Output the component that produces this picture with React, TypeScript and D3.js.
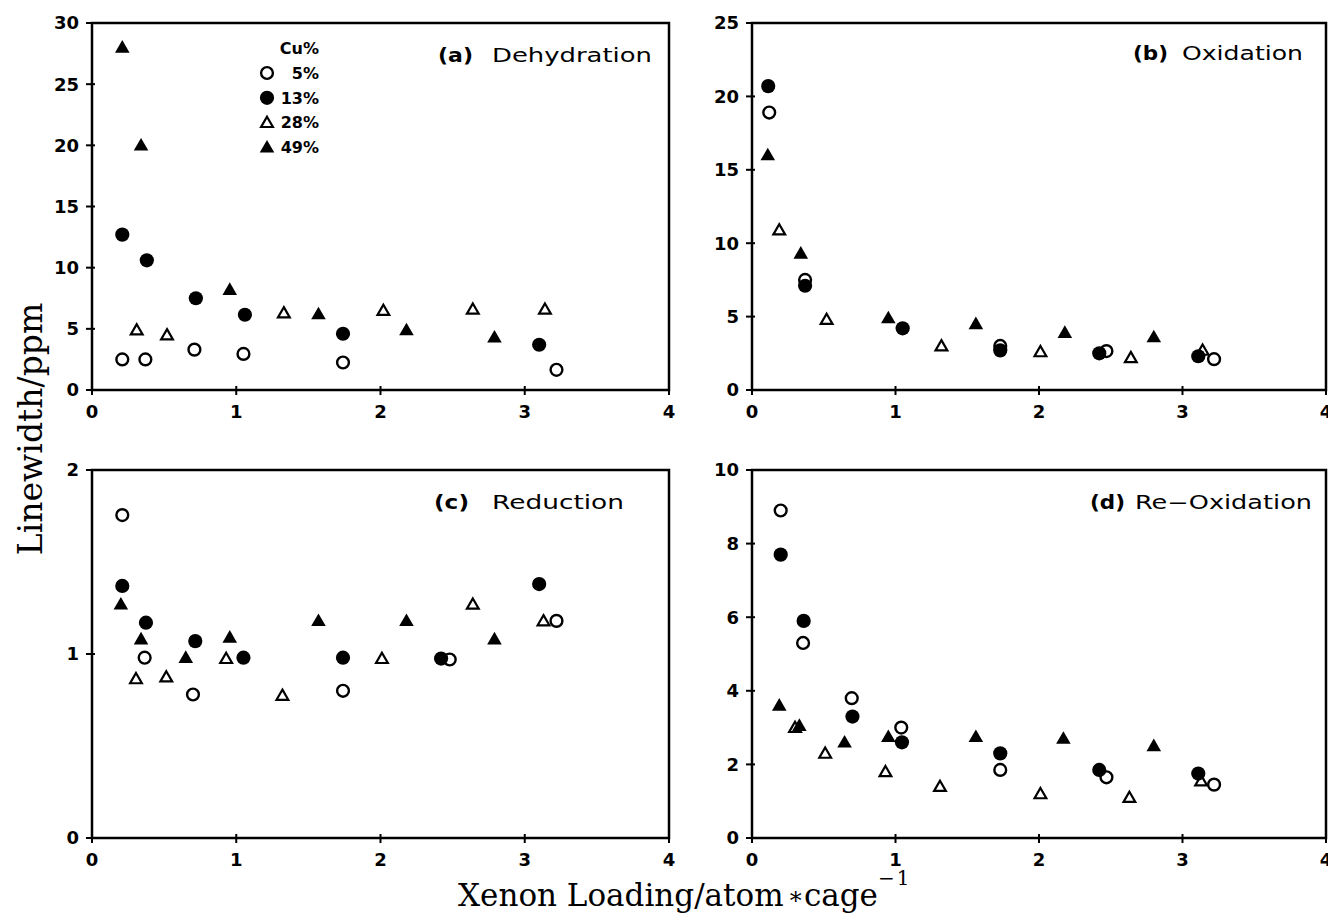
import { useEffect, useRef } from 'react';
import * as d3 from 'd3';

type Pt = [number, number];

// Cu loadings, same marker order in every panel
const cuLabels = ['5%', '13%', '28%', '49%'];
const xTicks = [0, 1, 2, 3, 4];

// (a) Dehydration  [xenon loading, linewidth]
const dehyd5: Pt[] = [[0.21, 2.5], [0.37, 2.5], [0.71, 3.3], [1.05, 2.95], [1.74, 2.25], [3.22, 1.65]];
const dehyd13: Pt[] = [[0.21, 12.7], [0.38, 10.6], [0.72, 7.5], [1.06, 6.15], [1.74, 4.6], [3.1, 3.7]];
const dehyd28: Pt[] = [[0.31, 4.9], [0.52, 4.5], [1.33, 6.3], [2.02, 6.5], [2.64, 6.6], [3.14, 6.6]];
const dehyd49: Pt[] = [[0.21, 28.0], [0.34, 20.0], [0.955, 8.2], [1.57, 6.2], [2.18, 4.9], [2.79, 4.3]];

// (b) Oxidation
const oxid5: Pt[] = [[0.12, 18.9], [0.37, 7.5], [1.73, 3.0], [2.47, 2.65], [3.22, 2.1]];
const oxid13: Pt[] = [[0.113, 20.7], [0.37, 7.1], [1.05, 4.2], [1.73, 2.7], [2.42, 2.5], [3.11, 2.3]];
const oxid28: Pt[] = [[0.19, 10.9], [0.52, 4.8], [1.32, 3.0], [2.01, 2.6], [2.64, 2.2], [3.14, 2.7]];
const oxid49: Pt[] = [[0.11, 16.0], [0.34, 9.3], [0.95, 4.9], [1.56, 4.5], [2.18, 3.9], [2.8, 3.6]];

// (c) Reduction
const red5: Pt[] = [[0.21, 1.755], [0.365, 0.98], [0.7, 0.78], [1.74, 0.8], [2.48, 0.97], [3.22, 1.18]];
const red13: Pt[] = [[0.21, 1.37], [0.374, 1.17], [0.716, 1.07], [1.05, 0.98], [1.74, 0.98], [2.42, 0.975], [3.1, 1.38]];
const red28: Pt[] = [[0.305, 0.865], [0.515, 0.875], [0.93, 0.975], [1.32, 0.775], [2.01, 0.975], [2.64, 1.27], [3.13, 1.18]];
const red49: Pt[] = [[0.2, 1.27], [0.34, 1.08], [0.65, 0.98], [0.955, 1.09], [1.57, 1.18], [2.18, 1.18], [2.79, 1.08]];

// (d) Re-Oxidation
const reox5: Pt[] = [[0.2, 8.9], [0.356, 5.3], [0.695, 3.8], [1.04, 3.0], [1.73, 1.85], [2.47, 1.65], [3.22, 1.45]];
const reox13: Pt[] = [[0.2, 7.7], [0.36, 5.9], [0.7, 3.3], [1.045, 2.6], [1.73, 2.3], [2.42, 1.85], [3.11, 1.75]];
const reox28: Pt[] = [[0.3, 3.0], [0.51, 2.3], [0.93, 1.8], [1.31, 1.4], [2.01, 1.2], [2.63, 1.1], [3.13, 1.55]];
const reox49: Pt[] = [[0.19, 3.6], [0.33, 3.05], [0.645, 2.6], [0.95, 2.75], [1.56, 2.75], [2.17, 2.7], [2.8, 2.5]];

const yTicksA = [0, 5, 10, 15, 20, 25, 30];
const yTicksB = [0, 5, 10, 15, 20, 25];
const yTicksC = [0, 1, 2];
const yTicksD = [0, 2, 4, 6, 8, 10];

const panels = [
  { left: 92, top: 23, right: 669, bottom: 390, yTicks: yTicksA, tag: '(a)', name: 'Dehydration',
    tagX: 438, nameX: 492, nameEnd: 652, titleY: 62, series: [dehyd5, dehyd13, dehyd28, dehyd49], legend: true },
  { left: 752, top: 23, right: 1326, bottom: 390, yTicks: yTicksB, tag: '(b)', name: 'Oxidation',
    tagX: 1133, nameX: 1182, nameEnd: 1303, titleY: 60, series: [oxid5, oxid13, oxid28, oxid49], legend: false },
  { left: 92, top: 470, right: 669, bottom: 838, yTicks: yTicksC, tag: '(c)', name: 'Reduction',
    tagX: 434, nameX: 492, nameEnd: 624, titleY: 509, series: [red5, red13, red28, red49], legend: false },
  { left: 752, top: 470, right: 1326, bottom: 838, yTicks: yTicksD, tag: '(d)', name: 'Re\u2212Oxidation',
    tagX: 1090, nameX: 1135, nameEnd: 1312, titleY: 509, series: [reox5, reox13, reox28, reox49], legend: false },
];

const tickFont = 'DejaVu Sans';

const drawMark = (g: any, kind: number, x: number, y: number) => {
  if (kind < 2) {
    g.append('circle')
      .attr('cx', x).attr('cy', y)
      .attr('r', kind === 0 ? 5.9 : 7.1)
      .attr('fill', kind === 0 ? 'none' : '#000')
      .attr('stroke', '#000')
      .attr('stroke-width', kind === 0 ? 2.4 : 0);
  } else {
    g.append('path')
      .attr('transform', `translate(${x},${y + 1})`)
      .attr('d', d3.symbol(d3.symbolTriangle, kind === 2 ? 60 : 92)())
      .attr('fill', kind === 2 ? 'none' : '#000')
      .attr('stroke', '#000')
      .attr('stroke-width', kind === 2 ? 2.2 : 0)
      .attr('stroke-linejoin', 'miter');
  }
};

function App() {
  const ref = useRef<SVGSVGElement>(null);

  useEffect(() => {
    const svg = d3.select(ref.current);
    svg.selectAll('*').remove();

    panels.forEach((p) => {
      const x = d3.scaleLinear().domain([0, 4]).range([p.left, p.right]);
      const y = d3.scaleLinear().domain([0, p.yTicks[p.yTicks.length - 1]]).range([p.bottom, p.top]);
      const g = svg.append('g');

      g.append('rect')
        .attr('x', p.left).attr('y', p.top)
        .attr('width', p.right - p.left).attr('height', p.bottom - p.top)
        .attr('fill', 'none').attr('stroke', '#000').attr('stroke-width', 2.5);

      // y ticks
      p.yTicks.forEach((t) => {
        g.append('line')
          .attr('x1', p.left - 6).attr('x2', p.left + 3)
          .attr('y1', y(t)).attr('y2', y(t))
          .attr('stroke', '#000').attr('stroke-width', 2);
        g.append('text')
          .attr('x', p.left - 13).attr('y', y(t)).attr('dy', '0.36em')
          .attr('text-anchor', 'end')
          .attr('font-family', tickFont).attr('font-weight', 'bold').attr('font-size', 18)
          .text(t);
      });

      // x ticks
      xTicks.forEach((t) => {
        g.append('line')
          .attr('x1', x(t)).attr('x2', x(t))
          .attr('y1', p.bottom - 4).attr('y2', p.bottom + 5)
          .attr('stroke', '#000').attr('stroke-width', 2);
        g.append('text')
          .attr('x', x(t)).attr('y', p.bottom + 28)
          .attr('text-anchor', 'middle')
          .attr('font-family', tickFont).attr('font-weight', 'bold').attr('font-size', 18)
          .text(t);
      });

      // title: wide glyphs, stretched to the measured width
      g.append('text')
        .attr('x', p.tagX).attr('y', p.titleY)
        .attr('font-family', tickFont).attr('font-weight', 'bold').attr('font-size', 19)
        .attr('textLength', 35).attr('lengthAdjust', 'spacingAndGlyphs')
        .text(p.tag);
      g.append('text')
        .attr('x', p.nameX).attr('y', p.titleY)
        .attr('font-family', tickFont).attr('font-size', 19)
        .attr('textLength', p.nameEnd - p.nameX).attr('lengthAdjust', 'spacingAndGlyphs')
        .text(p.name);

      p.series.forEach((s, k) => {
        s.forEach((d) => drawMark(g, k, x(d[0]), y(d[1])));
      });

      if (p.legend) {
        g.append('text')
          .attr('x', 319).attr('y', 54)
          .attr('text-anchor', 'end')
          .attr('font-family', tickFont).attr('font-weight', 'bold').attr('font-size', 16)
          .text('Cu%');
        cuLabels.forEach((lab, k) => {
          const ly = 73 + k * 24.8;
          drawMark(g, k, 267, ly);
          g.append('text')
            .attr('x', 319).attr('y', ly).attr('dy', '0.36em')
            .attr('text-anchor', 'end')
            .attr('font-family', tickFont).attr('font-weight', 'bold').attr('font-size', 16)
            .text(lab);
        });
      }
    });

    // axis titles
    svg.append('text')
      .attr('transform', 'translate(42,429) rotate(-90)')
      .attr('text-anchor', 'middle')
      .attr('font-family', 'DejaVu Serif').attr('font-size', 33)
      .text('Linewidth/ppm');

    const xl = svg.append('text')
      .attr('x', 458).attr('y', 906)
      .attr('font-family', 'DejaVu Serif').attr('font-size', 31);
    xl.append('tspan').text('Xenon Loading/atom');
    xl.append('tspan').attr('font-size', 24).attr('dx', 4).attr('dy', -2).text('\u2217');
    xl.append('tspan').attr('dy', 2).text('cage');
    xl.append('tspan').attr('font-size', 20).attr('dx', 0).attr('dy', -21).text('\u2212');
    xl.append('tspan').attr('font-size', 20).attr('dx', 2).text('1');
  }, []);

  return (
    <svg ref={ref} width={1328} height={916}
      style={{ position: 'absolute', left: 0, top: 0, background: '#fff' }} />
  );
}

export default App;
